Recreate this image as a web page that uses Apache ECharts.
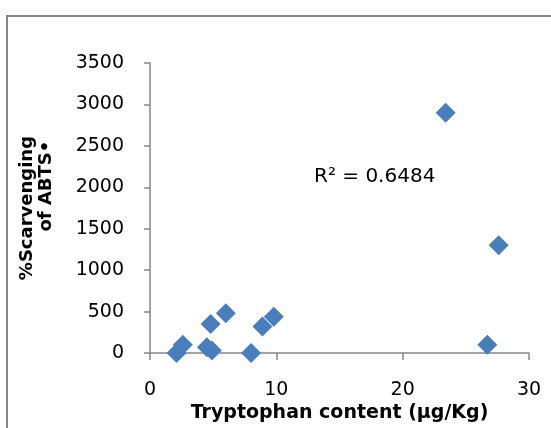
<!DOCTYPE html>
<html>
<head>
<meta charset="utf-8">
<script src="https://cdn.jsdelivr.net/npm/echarts@6/dist/echarts.min.js"></script>
<style>
  html, body { margin: 0; padding: 0; background: #fff; overflow: hidden; }
  .wrap { position: relative; width: 551px; height: 428px; overflow: hidden; }
  .frame {
    position: absolute; left: 6px; top: 15px; width: 700px; height: 700px;
    border-left: 2px solid #878787; border-top: 2px solid #878787;
    pointer-events: none;
  }
  .main { position: absolute; left: 0; top: 0; width: 551px; height: 428px; }
</style>
</head>
<body>
<div class="wrap">
  <div class="main"></div>
  <div class="frame"></div>
</div>
<script>
// tryptophan content vs %scavenging
var tryptophan = [2.1, 2.6, 4.5, 4.9, 4.8, 6.0, 8.0, 8.9, 9.8, 23.4, 26.7, 27.6];
var scavenging = [0, 100, 70, 30, 350, 480, 0, 320, 440, 2900, 100, 1300];
var xTicks = [0, 10, 20, 30];
var yTicks = [0, 500, 1000, 1500, 2000, 2500, 3000, 3500];
var r2Text = 'R² = 0.6484';

var points = tryptophan.map(function (x, i) { return [x, scavenging[i]]; });

var myChart = echarts.init(document.querySelector('.main'));
myChart.setOption({
  animation: false,
  textStyle: { fontFamily: 'DejaVu Sans' },
  grid: { left: 150, right: 22, top: 63, bottom: 73 },
  graphic: [
    {
      type: 'text',
      left: 314,
      top: 167,
      style: { text: r2Text, font: '20px "DejaVu Sans"', fill: '#000' }
    }
  ],
  xAxis: {
    type: 'value',
    min: xTicks[0],
    max: xTicks[xTicks.length - 1],
    interval: 10,
    splitLine: { show: false },
    axisLine: { lineStyle: { color: '#868686', width: 1.5 } },
    axisTick: { length: 7, lineStyle: { color: '#868686', width: 1.5 } },
    axisLabel: { color: '#000', fontSize: 19, margin: 27, formatter: function (v) { return String(v); } },
    name: 'Tryptophan content (µg/Kg)',
    nameLocation: 'middle',
    nameGap: 49,
    nameTextStyle: { color: '#000', fontSize: 19, fontWeight: 'bold' }
  },
  yAxis: {
    type: 'value',
    min: yTicks[0],
    max: yTicks[yTicks.length - 1],
    interval: 500,
    splitLine: { show: false },
    axisLine: { show: true, lineStyle: { color: '#868686', width: 1.5 } },
    axisTick: { show: true, length: 6, lineStyle: { color: '#868686', width: 1.5 } },
    axisLabel: { color: '#000', fontSize: 19, margin: 26, formatter: function (v) { return String(v); } },
    name: '%Scarvenging\n       of ABTS•',
    nameLocation: 'middle',
    nameRotate: 90,
    nameGap: 94,
    nameTextStyle: { color: '#000', fontSize: 18, fontWeight: 'bold', lineHeight: 19 }
  },
  series: [
    {
      type: 'scatter',
      data: points,
      symbol: 'diamond',
      symbolSize: 20,
      itemStyle: { color: '#4a7ebb', opacity: 1 }
    }
  ]
});
</script>
</body>
</html>
